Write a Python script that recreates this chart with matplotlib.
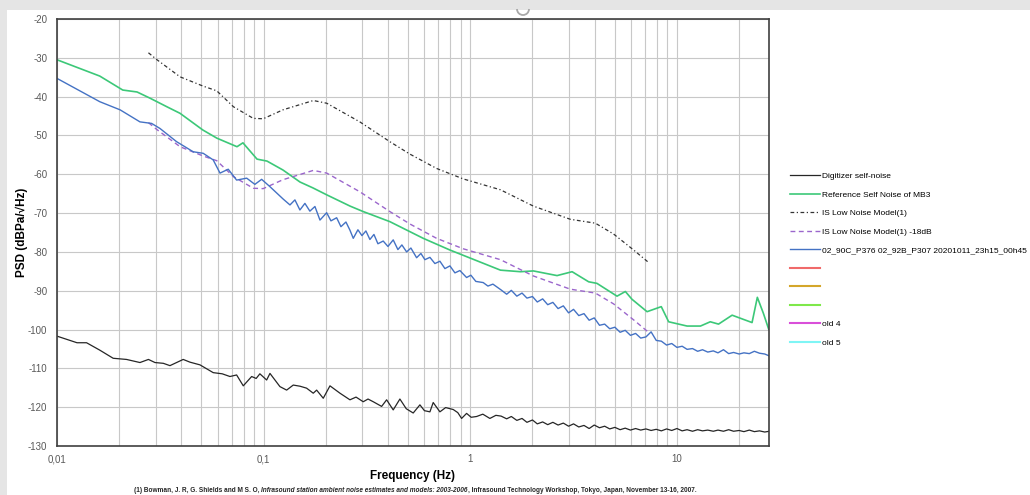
import matplotlib
matplotlib.use("Agg")
import matplotlib.pyplot as plt
from matplotlib.patches import Rectangle, Arc
from matplotlib.ticker import FixedLocator, NullFormatter

plt.rcParams['font.family'] = ['Liberation Sans', 'DejaVu Sans']
plt.rcParams['axes.unicode_minus'] = False

# Digitizer self-noise (low / mid band)
dig_f = [0.0100, 0.0125, 0.0139, 0.0161, 0.0187, 0.0217, 0.0252, 0.0277, 0.0298, 0.0327,
         0.0352, 0.0408, 0.0440, 0.0492, 0.0570, 0.0630, 0.0687, 0.0740, 0.0797, 0.0875,
         0.0920, 0.0959, 0.1034, 0.1073, 0.1199, 0.1292, 0.1391, 0.150, 0.1614, 0.1738,
         0.1805, 0.1943, 0.2094, 0.2341, 0.2616, 0.280, 0.3033, 0.320, 0.3392, 0.3724,
         0.3937, 0.4237, 0.4564, 0.49, 0.5294, 0.5705, 0.60, 0.6378, 0.6615, 0.7129,
         0.76, 0.8267, 0.87, 0.9077, 0.9597, 1.01, 1.073, 1.15, 1.244, 1.33]
dig_db = [-101.7, -103.4, -103.4, -105.3, -107.4, -107.7, -108.5, -107.7, -108.5, -108.7,
          -109.3, -107.7, -108.4, -109.1, -111.1, -111.4, -112.1, -111.7, -114.5, -112.1,
          -112.6, -111.4, -113.0, -111.3, -114.7, -115.6, -114.3, -114.6, -115.1, -116.4,
          -115.6, -117.7, -114.5, -116.4, -118.1, -117.4, -118.6, -117.9, -118.6, -119.8,
          -118.1, -120.7, -117.9, -120.4, -121.5, -119.4, -120.9, -121.2, -118.8, -121.2,
          -120.1, -120.6, -121.4, -122.9, -121.6, -122.6, -122.4, -121.8, -122.9, -122.1]

# measured PSD (low / mid band)
meas_f = [0.0100, 0.0161, 0.0202, 0.0252, 0.0287, 0.0315, 0.0379, 0.0456, 0.0510, 0.0570,
          0.0615, 0.0674, 0.0740, 0.0828, 0.0907, 0.0978, 0.1073, 0.1244, 0.1341, 0.1417,
          0.1498, 0.1584, 0.1674, 0.1771, 0.1873, 0.2018, 0.2117, 0.2256, 0.2366, 0.2502,
          0.2616, 0.2715, 0.2859, 0.2990, 0.3125, 0.3268, 0.3418, 0.3573, 0.3790, 0.3995,
          0.4237, 0.4464, 0.4667, 0.4919, 0.5160, 0.5498, 0.5768, 0.6031, 0.6378, 0.6742,
          0.7129, 0.7538, 0.7970, 0.8426, 0.8907, 0.9597, 1.0067, 1.064, 1.155, 1.217, 1.287]
meas_db = [-35.3, -41.3, -43.4, -46.5, -46.9, -48.2, -51.6, -54.2, -54.6, -56.3,
           -59.7, -58.7, -61.5, -61.0, -62.6, -61.3, -63.2, -66.4, -67.9, -66.6,
           -69.2, -67.5, -69.5, -68.3, -71.8, -69.9, -72.0, -71.2, -73.5, -72.3,
           -74.4, -76.5, -74.3, -75.8, -74.6, -76.8, -75.5, -77.9, -77.2, -78.6,
           -76.9, -79.4, -78.2, -80.0, -79.0, -81.5, -80.4, -82.0, -81.4, -83.0,
           -82.4, -84.3, -83.6, -85.4, -84.8, -86.6, -86.0, -87.6, -87.9, -88.8, -88.3]

# high band, shared frequency grid
hi_f = [1.41, 1.50, 1.58, 1.68, 1.78, 1.88, 2.00, 2.11, 2.24, 2.37, 2.51, 2.66, 2.82, 2.99,
        3.16, 3.35, 3.55, 3.76, 3.98, 4.22, 4.47, 4.73, 5.01, 5.31, 5.62, 5.96, 6.31, 6.68,
        7.08, 7.50, 7.94, 8.41, 8.91, 9.44, 10.0, 10.6, 11.2, 11.9, 12.6, 13.3, 14.1, 15.0,
        15.8, 16.8, 17.8, 18.8, 20.0, 21.1, 22.4, 23.7, 25.1, 26.6, 28.0]
meas_hi = [-89.8, -90.9, -89.9, -91.4, -90.6, -91.9, -91.5, -92.9, -92.1, -93.6, -93.0, -94.6,
           -93.9, -95.7, -94.8, -96.4, -95.9, -97.6, -97.0, -98.9, -98.6, -99.8, -99.4, -100.7,
           -100.2, -101.5, -101.0, -102.2, -101.9, -100.6, -102.8, -103.0, -104.0, -103.6,
           -104.6, -104.3, -105.1, -104.9, -105.6, -105.2, -105.8, -105.5, -106.0, -105.2,
           -106.2, -105.9, -106.3, -106.0, -106.2, -105.6, -106.1, -106.3, -106.8]
dig_hi = [-122.3, -123.0, -122.4, -123.4, -122.9, -123.9, -123.3, -124.3, -123.8, -124.5,
          -123.9, -124.6, -124.1, -124.9, -124.3, -125.1, -124.7, -125.5, -124.6, -125.3,
          -124.9, -125.6, -125.2, -125.8, -125.4, -125.9, -125.5, -125.9, -125.6, -126.0,
          -125.7, -126.1, -125.6, -126.0, -125.5, -126.1, -125.8, -126.2, -125.8, -126.1,
          -125.9, -126.2, -125.9, -126.2, -125.8, -126.2, -126.0, -126.3, -125.9, -126.3,
          -126.1, -126.4, -126.2]

# Reference self noise of MB3
mb3_f = [0.0100, 0.0161, 0.0208, 0.0244, 0.0282, 0.0340, 0.0394, 0.0508, 0.0594, 0.0743,
         0.0794, 0.0929, 0.1038, 0.124, 0.150, 0.173, 0.202, 0.262, 0.303, 0.408,
         0.592, 0.796, 1.0, 1.40, 1.75, 2.02, 2.63, 3.11, 3.74, 4.10,
         5.13, 5.63, 6.06, 7.17, 8.40, 9.12, 11.2, 13.0, 14.5, 15.9,
         18.5, 20.3, 23.1, 24.5, 26.2, 27.8]
mb3_db = [-30.5, -34.7, -38.3, -38.8, -40.4, -42.6, -44.3, -48.6, -50.7, -52.9,
          -51.9, -56.1, -56.6, -58.9, -62.0, -63.5, -65.3, -68.2, -69.6, -72.2,
          -76.5, -79.5, -81.6, -84.7, -85.1, -84.9, -86.1, -85.1, -87.7, -88.1,
          -91.4, -90.2, -92.2, -95.4, -94.1, -98.0, -99.1, -99.1, -98.0, -98.6,
          -96.3, -97.1, -98.2, -91.7, -95.8, -99.9]

# IS low noise model (Bowman et al.) and the same model -18 dB
lnm_f = [0.0277, 0.0303, 0.0394, 0.051, 0.0593, 0.0714, 0.0891, 0.0995, 0.124, 0.174,
         0.202, 0.292, 0.408, 0.51, 0.687, 0.925, 1.40, 2.02, 3.05, 4.03, 4.94, 6.17, 7.21]
lnm_db = [-28.7, -30.4, -34.9, -37.3, -38.5, -42.6, -45.6, -45.7, -43.4, -41.0,
          -41.7, -46.5, -51.6, -54.8, -58.5, -61.2, -64.0, -68.2, -71.6, -72.6, -75.4, -79.5, -82.5]
lnm18_db = [-46.7, -48.4, -52.9, -55.3, -56.5, -60.6, -63.6, -63.7, -61.4, -59.0,
            -59.7, -64.5, -69.6, -72.8, -76.5, -79.2, -82.0, -86.2, -89.6, -90.6, -93.4, -97.5, -100.5]

labels = ['Digitizer self-noise', 'Reference Self Noise of MB3', 'IS Low Noise Model(1)',
          'IS Low Noise Model(1) -18dB', '02_90C_P376 02_92B_P307 20201011_23h15_00h45',
          ' ', ' ', ' ', 'old 4', 'old 5']
unused_colors = ['#f06a6a', '#d4a62a', '#7ee84a', '#d94fd9', '#7ff5f5']

x_ticks = [0.01, 0.1, 1, 10]
x_ticklabels = ['0,01', '0,1', '1', '10']
y_ticks = list(range(-130, -10, 10))

fig = plt.figure(figsize=(10.3, 4.95), dpi=100)
fig.patch.set_facecolor('#e5e5e5')
fig.patches.append(Rectangle((7 / 1030, 0), 1, 485 / 495, transform=fig.transFigure,
                             facecolor='white', edgecolor='none', zorder=-5))
# little resize handle at the top of the chart frame
fig.patches.append(Arc((523 / 1030, 1 - 9 / 495), 12 / 1030, 12 / 495, theta1=180, theta2=360,
                       transform=fig.transFigure, edgecolor='#a8a8a8', lw=1.3, zorder=-4))

ax = fig.add_axes([57 / 1030, 49 / 495, 712 / 1030, 427 / 495])
ax.set_xscale('log')

h = []
h += ax.plot(dig_f + hi_f, dig_db + dig_hi, color='#262626', lw=0.9)
h += ax.plot(mb3_f, mb3_db, color='#3cc878', lw=1.2)
h += ax.plot(lnm_f, lnm_db, color='#333333', lw=0.9, dashes=(3, 2, 1, 2))
h += ax.plot(lnm_f, lnm18_db, color='#9b66cc', lw=1.0, dashes=(3.5, 2.5))
h += ax.plot(meas_f + hi_f, meas_db + meas_hi, color='#4472c4', lw=1.0)
for c in unused_colors:
    h += ax.plot([], [], color=c, lw=1.5)

ax.set_xlim(0.01, 27.9)
ax.set_ylim(-130, -20)
ax.xaxis.set_major_locator(FixedLocator(x_ticks))
ax.set_xticklabels(x_ticklabels)
ax.xaxis.set_minor_locator(FixedLocator([m * 10.0 ** e for e in range(-2, 2) for m in range(2, 10)]))
ax.xaxis.set_minor_formatter(NullFormatter())
ax.set_yticks(y_ticks)
ax.set_yticklabels([str(v) for v in y_ticks])
ax.grid(True, which='both', axis='x', color='#c8c8c8', lw=0.8)
ax.grid(True, which='major', axis='y', color='#c8c8c8', lw=0.8)
ax.set_axisbelow(True)
ax.tick_params(which='both', length=0, labelsize=7, colors='#595959')
ax.tick_params(axis='x', pad=6)
ax.tick_params(axis='y', pad=7)
for s in ax.spines.values():
    s.set_color('#404040')
    s.set_linewidth(1.2)

ax.set_xlabel('Frequency (Hz)', fontsize=8.5, fontweight='bold', va='center')
ax.xaxis.set_label_coords(0.5, -30 / 427)
ax.set_ylabel('PSD (dBPa/\u221aHz)', fontsize=8.5, fontweight='bold', va='center')
ax.yaxis.set_label_coords(-35 / 712, 0.5)

fig.legend(h, labels, loc='upper left', bbox_to_anchor=(787 / 1030, 1 - 169 / 495),
           frameon=False, handlelength=3.6, handletextpad=0.25,
           labelspacing=1.28, borderaxespad=0, prop={'size': 6.0})

# footnote with an italic title in the middle
parts = [('(1) Bowman, J. R, G. Shields and M S. O, ', 'normal'),
         ('Infrasound station ambient noise estimates and models: 2003-2006', 'italic'),
         (', Infrasound Technology Workshop, Tokyo, Japan, November 13-16, 2007.', 'normal')]
r = fig.canvas.get_renderer()
texts = [fig.text(0, 3.5 / 495, t, fontsize=4.7, fontstyle=st, fontweight='bold', color='#262626',
                  va='baseline') for t, st in parts]
widths = [t.get_window_extent(r).width for t in texts]
x = 415 - sum(widths) / 2
for t, w in zip(texts, widths):
    t.set_x(x / 1030)
    x += w

fig.savefig('out.png', dpi=100, facecolor=fig.get_facecolor())
